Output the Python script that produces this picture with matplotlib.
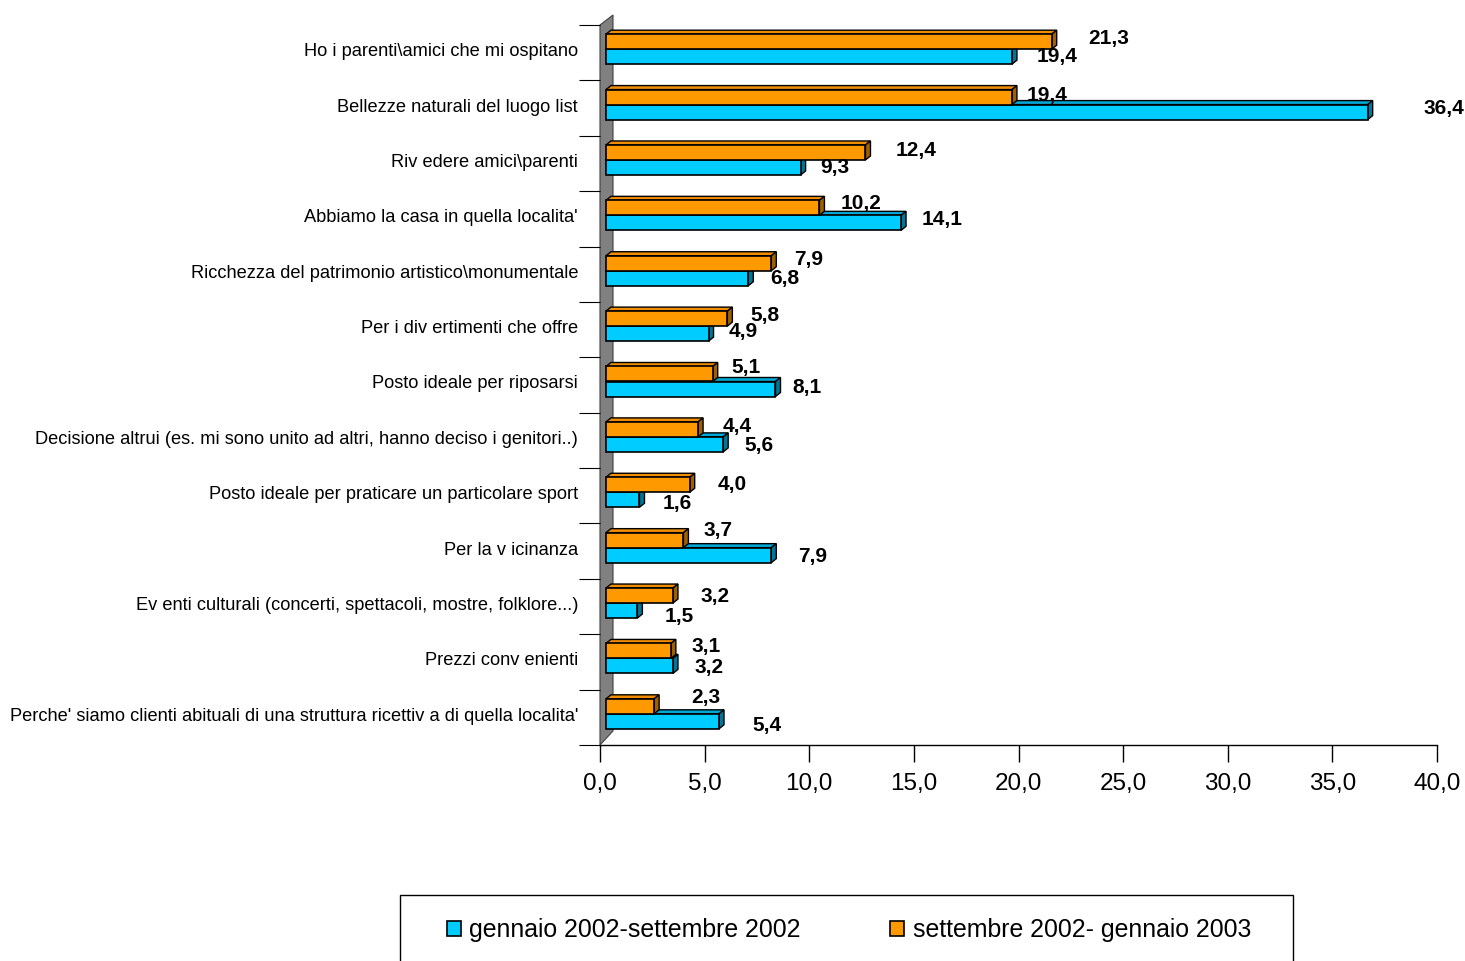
import numpy as np
import matplotlib
matplotlib.use("Agg")
import matplotlib.pyplot as plt
from matplotlib.patches import Polygon, Rectangle, Patch
from matplotlib.transforms import ScaledTranslation, IdentityTransform

plt.rcParams['font.family'] = ['Liberation Sans', 'DejaVu Sans']

categories = [
    "Ho i parenti\\amici che mi ospitano",
    "Bellezze naturali del luogo list",
    "Riv edere amici\\parenti",
    "Abbiamo la casa in quella localita'",
    "Ricchezza del patrimonio artistico\\monumentale",
    "Per i div ertimenti che offre",
    "Posto ideale per riposarsi",
    "Decisione altrui (es. mi sono unito ad altri, hanno deciso i genitori..)",
    "Posto ideale per praticare un particolare sport",
    "Per la v icinanza",
    "Ev enti culturali (concerti, spettacoli, mostre, folklore...)",
    "Prezzi conv enienti",
    "Perche' siamo clienti abituali di una struttura ricettiv a di quella localita'",
]
gen_set_2002 = [19.4, 36.4, 9.3, 14.1, 6.8, 4.9, 8.1, 5.6, 1.6, 7.9, 1.5, 3.2, 5.4]
set_2002_gen_2003 = [21.3, 19.4, 12.4, 10.2, 7.9, 5.8, 5.1, 4.4, 4.0, 3.7, 3.2, 3.1, 2.3]
series_names = ["gennaio 2002-settembre 2002", "settembre 2002- gennaio 2003"]
x_ticks = [0, 5, 10, 15, 20, 25, 30, 35, 40]

# label offsets in pixels from the bar end (excel put them a bit everywhere)
cyan_dx = [45, 76, 34, 41, 37, 35, 32, 36, 38, 41, 42, 36, 48]
cyan_dy = [0, -4, 0, -3, 0, -2, -1, 1, 3.5, 1, 6, 2, 4.5]
orange_dx = [57, 35, 51, 42, 37, 38, 33, 39, 42, 35, 42, 35, 52]
orange_dy = [-3.5, -2, -2, -4, -3.5, -3, -6, -3, 0, -10, 1, -4, -8.5]

W, H = 1465, 961
fig = plt.figure(figsize=(W / 100, H / 100), dpi=100)
ax = fig.add_axes([600 / W, (H - 745) / H, 837 / W, 720 / H])

n = len(categories)
y = np.arange(n)
ax.set_xlim(0, 40)
ax.set_ylim(n - 0.5, -0.5)

bar_h = 15 / (720 / n)
bar_tr = ax.transData + ScaledTranslation(6 / 100, 3.5 / 100, fig.dpi_scale_trans)
dx, dy = 5, 4  # depth of the fake 3d


def wall():
    x0, yb = ax.transData.transform((0, n - 0.5))
    _, yt = ax.transData.transform((0, -0.5))
    pts = [(x0, yb), (x0, yt), (x0 + 13, yt + 10), (x0 + 13, yb + 14)]
    ax.add_patch(Polygon(pts, closed=True, facecolor='#808080', edgecolor='#404040',
                         linewidth=0.8, transform=IdentityTransform(), clip_on=False, zorder=1))


def bars3d(vals, ypos, front, top, side, z):
    ax.barh(ypos, vals, height=bar_h, color=front, edgecolor='black', linewidth=1.2,
            transform=bar_tr, zorder=z + 0.5)
    for v, yc in zip(vals, ypos):
        x0, y0 = bar_tr.transform((0, yc + bar_h / 2))
        x1, y1 = bar_tr.transform((v, yc - bar_h / 2))
        top_pts = [(x0, y1), (x1, y1), (x1 + dx, y1 + dy), (x0 + dx, y1 + dy)]
        side_pts = [(x1, y0), (x1, y1), (x1 + dx, y1 + dy), (x1 + dx, y0 + dy)]
        for pts, c in [(top_pts, top), (side_pts, side)]:
            ax.add_patch(Polygon(pts, closed=True, facecolor=c, edgecolor='black', linewidth=1.0,
                                 transform=IdentityTransform(), clip_on=False, zorder=z))


def value_labels(vals, ypos, offx, offy):
    for v, yc, ox, oy in zip(vals, ypos, offx, offy):
        ax.annotate(f"{v:.1f}".replace('.', ','), xy=(v, yc), xycoords=bar_tr,
                    xytext=(ox * 0.72, -oy * 0.72), textcoords='offset points',
                    ha='center', va='center', fontsize=15, fontweight='bold', zorder=10)


wall()
y_cyan = y + bar_h / 2
y_orange = y - bar_h / 2
bars3d(gen_set_2002, y_cyan, '#00CCFF', '#00A8D6', '#007799', 2)
bars3d(set_2002_gen_2003, y_orange, '#FF9900', '#F08C00', '#9E6000', 4)
value_labels(gen_set_2002, y_cyan, cyan_dx, cyan_dy)
value_labels(set_2002_gen_2003, y_orange, orange_dx, orange_dy)

for s in ['left', 'top', 'right']:
    ax.spines[s].set_visible(False)
ax.spines['bottom'].set_linewidth(1.0)

ax.set_xticks(x_ticks, labels=[f"{t:.1f}".replace('.', ',') for t in x_ticks])
ax.tick_params(axis='x', length=12.5, width=1, pad=7.5, labelsize=17.5)

ax.set_yticks(y, labels=categories)
ax.set_yticks(np.arange(-0.5, n), minor=True)
ax.tick_params(axis='y', which='major', length=0, pad=15.8, labelsize=13.15)
ax.tick_params(axis='y', which='minor', length=15, width=0.8, color='black')
for lab in ax.get_yticklabels():
    lab.set_transform(lab.get_transform() + ScaledTranslation(0, 3 / 100, fig.dpi_scale_trans))

# legend box, cut at the bottom like the original
fig.add_artist(Rectangle((400 / W, (H - 985) / H), 893 / W, 90 / H, transform=fig.transFigure,
                         fill=False, edgecolor='black', linewidth=1.0))
handles = [Patch(facecolor='#00CCFF', edgecolor='black', linewidth=1.2),
           Patch(facecolor='#FF9900', edgecolor='black', linewidth=1.2)]
fig.legend(handles, series_names, loc='center left', bbox_to_anchor=(447 / W, (H - 930) / H),
           ncol=2, frameon=False, fontsize=17.9, handlelength=0.55, handleheight=0.55,
           handletextpad=0.35, columnspacing=3.6, borderpad=0, borderaxespad=0)

fig.savefig("out.png", dpi=100)
